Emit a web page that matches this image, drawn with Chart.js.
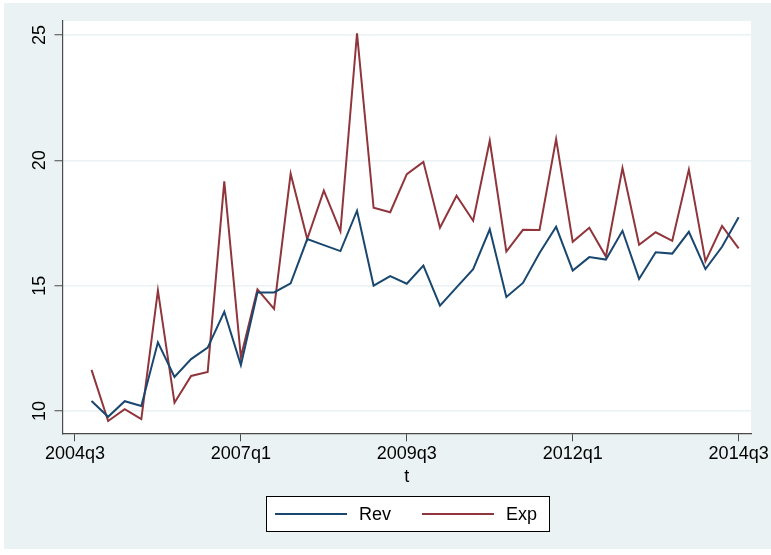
<!DOCTYPE html>
<html>
<head>
<meta charset="utf-8">
<script src="https://cdn.jsdelivr.net/npm/chart.js@4.4.1/dist/chart.umd.min.js"></script>
<style>
  html, body { margin: 0; padding: 0; background: #ffffff; }
  #wrap { position: relative; width: 771px; height: 555px; }
</style>
</head>
<body>
<div id="wrap"><canvas id="c" width="771" height="555"></canvas></div>
<script>
// Quarterly series, 2004q4 .. 2014q3
const quarters = [
  '2004q4','2005q1','2005q2','2005q3','2005q4','2006q1','2006q2','2006q3','2006q4','2007q1',
  '2007q2','2007q3','2007q4','2008q1','2008q2','2008q3','2008q4','2009q1','2009q2','2009q3',
  '2009q4','2010q1','2010q2','2010q3','2010q4','2011q1','2011q2','2011q3','2011q4','2012q1',
  '2012q2','2012q3','2012q4','2013q1','2013q2','2013q3','2013q4','2014q1','2014q2','2014q3'
];
const rev = [
  10.40, 9.77, 10.39, 10.20, 12.74, 11.36, 12.07, 12.53, 13.96, 11.83,
  14.73, 14.73, 15.09, 16.86, 16.62, 16.38, 17.99, 15.00, 15.38, 15.08,
  15.80, 14.20, 14.93, 15.66, 17.25, 14.55, 15.11, 16.30, 17.35, 15.60,
  16.14, 16.04, 17.19, 15.27, 16.33, 16.28, 17.15, 15.66, 16.55, 17.73
];
const expd = [
  11.64, 9.60, 10.07, 9.68, 14.81, 10.33, 11.40, 11.56, 19.16, 12.15,
  14.85, 14.07, 19.47, 16.86, 18.79, 17.17, 25.07, 18.11, 17.93, 19.45,
  19.94, 17.31, 18.59, 17.59, 20.78, 16.36, 17.23, 17.22, 20.85, 16.75,
  17.31, 16.16, 19.69, 16.63, 17.13, 16.79, 19.63, 15.97, 17.38, 16.49
];
const xTickLabels = ['2004q3', '2007q1', '2009q3', '2012q1', '2014q3'];
const yTickValues = [10, 15, 20, 25];

// quarter string -> quarters elapsed since 2004q3
function qIndex(s) {
  const y = parseInt(s.slice(0, 4), 10);
  const q = parseInt(s.slice(5), 10);
  return (y - 2004) * 4 + (q - 3);
}

const FONT = "'Liberation Sans', Arial, Helvetica, sans-serif";
const BG = '#eaf2f3';
const AXIS = '#4a4a4a';

const bgPlugin = {
  id: 'stataBg',
  beforeDraw(chart) {
    const ctx = chart.ctx;
    const a = chart.chartArea;
    ctx.save();
    ctx.fillStyle = BG;
    ctx.fillRect(4, 3, 767, 546);
    ctx.fillStyle = '#ffffff';
    ctx.fillRect(a.left, a.top, a.right - a.left, a.bottom - a.top);
    ctx.restore();
  }
};

// vertical y tick labels, reading bottom to top
const yLabelPlugin = {
  id: 'yLabels',
  afterDraw(chart) {
    const ctx = chart.ctx;
    const ys = chart.scales.y;
    ctx.save();
    ctx.fillStyle = '#000';
    ctx.font = '18px ' + FONT;
    ctx.textAlign = 'center';
    ctx.textBaseline = 'middle';
    ys.ticks.forEach(t => {
      const py = ys.getPixelForValue(t.value);
      ctx.save();
      ctx.translate(40.5, py);
      ctx.rotate(-Math.PI / 2);
      ctx.fillText(String(t.value), 0, 0);
      ctx.restore();
    });
    ctx.restore();
  }
};

// boxed legend below the plot
const legendPlugin = {
  id: 'boxLegend',
  afterDraw(chart) {
    const ctx = chart.ctx;
    const box = { l: 266.5, t: 496.5, r: 549.5, b: 531.5 };
    ctx.save();
    ctx.fillStyle = '#ffffff';
    ctx.fillRect(box.l, box.t, box.r - box.l, box.b - box.t);
    ctx.strokeStyle = '#000';
    ctx.lineWidth = 1;
    ctx.strokeRect(box.l, box.t, box.r - box.l, box.b - box.t);
    const cy = (box.t + box.b) / 2;
    const items = [
      { x0: 275, x1: 347, tx: 359 },
      { x0: 422, x1: 494, tx: 506 }
    ];
    ctx.font = '18px ' + FONT;
    ctx.textBaseline = 'middle';
    ctx.textAlign = 'left';
    chart.data.datasets.forEach((ds, i) => {
      const it = items[i];
      ctx.strokeStyle = ds.borderColor;
      ctx.lineWidth = 2;
      ctx.beginPath();
      ctx.moveTo(it.x0, cy);
      ctx.lineTo(it.x1, cy);
      ctx.stroke();
      ctx.fillStyle = '#000';
      ctx.fillText(ds.label, it.tx, cy + 1);
    });
    ctx.restore();
  }
};

new Chart(document.getElementById('c'), {
  type: 'line',
  data: {
    datasets: [
      {
        label: 'Rev',
        data: quarters.map((q, i) => ({ x: qIndex(q), y: rev[i] })),
        borderColor: '#1a476f',
        borderWidth: 2,
        pointRadius: 0,
        tension: 0,
        fill: false
      },
      {
        label: 'Exp',
        data: quarters.map((q, i) => ({ x: qIndex(q), y: expd[i] })),
        borderColor: '#90353b',
        borderWidth: 2,
        pointRadius: 0,
        tension: 0,
        fill: false
      }
    ]
  },
  options: {
    responsive: false,
    animation: false,
    events: [],
    layout: { padding: { left: 0, right: 18.3, top: 21, bottom: 67 } },
    plugins: { legend: { display: false }, tooltip: { enabled: false } },
    scales: {
      x: {
        type: 'linear',
        min: -0.75,
        max: 40.75,
        afterBuildTicks(scale) {
          scale.ticks = xTickLabels.map(s => ({ value: qIndex(s) }));
        },
        afterFit(scale) { scale.height = 54.7; },
        border: { display: true, color: AXIS, width: 1.2 },
        grid: { drawOnChartArea: false, drawTicks: true, tickLength: 8, tickColor: AXIS, tickWidth: 1 },
        ticks: {
          color: '#000',
          font: { family: FONT, size: 18 },
          padding: 2,
          maxRotation: 0,
          minRotation: 0,
          autoSkip: false,
          callback(v) {
            const i = xTickLabels.findIndex(s => qIndex(s) === v);
            return i >= 0 ? xTickLabels[i] : '';
          }
        },
        title: {
          display: true,
          text: 't',
          color: '#000',
          font: { family: FONT, size: 18 },
          padding: { top: 0, bottom: 0 }
        }
      },
      y: {
        type: 'linear',
        min: 9.11,
        max: 25.56,
        afterBuildTicks(scale) {
          scale.ticks = yTickValues.map(v => ({ value: v }));
        },
        afterFit(scale) { scale.width = 62.5; },
        border: { display: true, color: AXIS, width: 1.2 },
        grid: { display: true, color: BG, lineWidth: 1.5, drawTicks: true, tickLength: 8, tickColor: AXIS, tickWidth: 1 },
        ticks: { display: false }
      }
    }
  },
  plugins: [bgPlugin, yLabelPlugin, legendPlugin]
});
</script>
</body>
</html>
